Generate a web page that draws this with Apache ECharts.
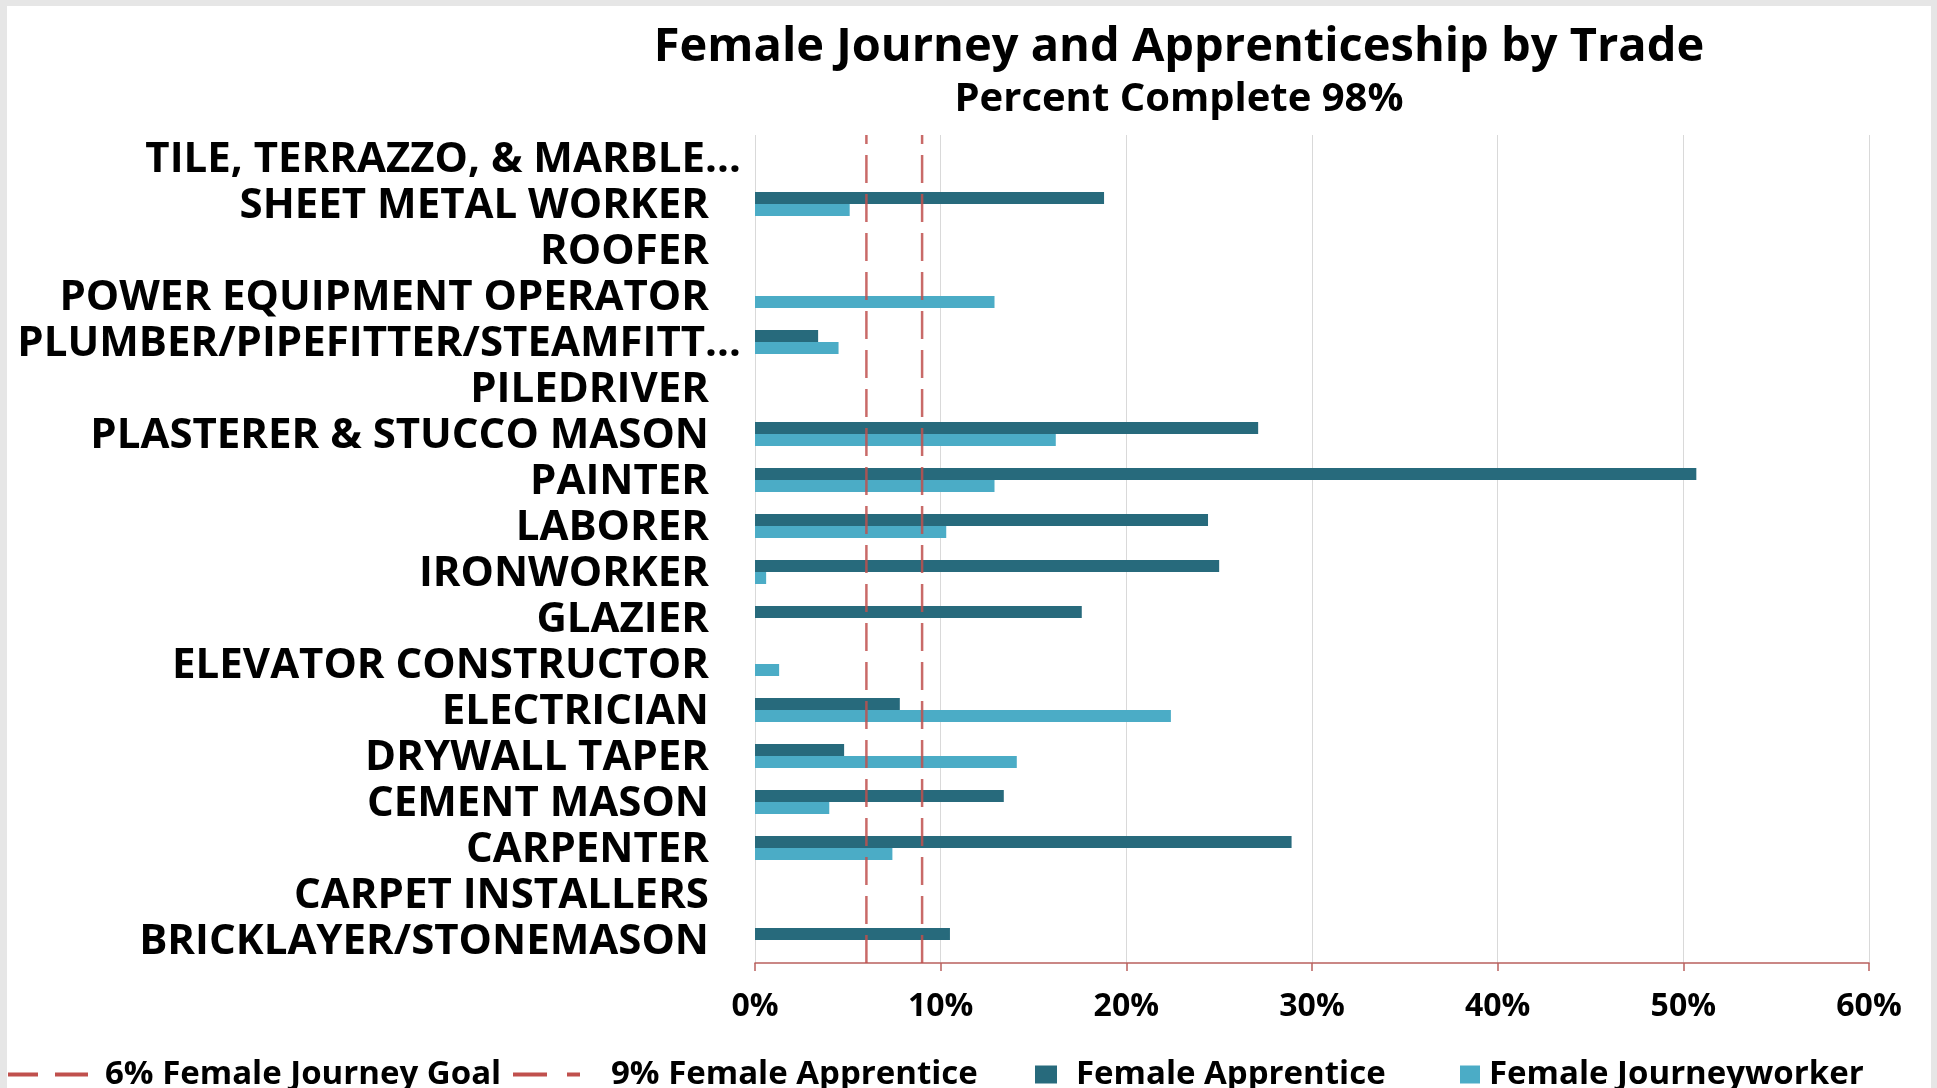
<!DOCTYPE html>
<html>
<head>
<meta charset="utf-8">
<script src="https://cdn.jsdelivr.net/npm/echarts@6/dist/echarts.min.js"></script>
<style>
  html, body { margin: 0; padding: 0; background: #e6e6e6; }
  #chart { position: absolute; left: 7px; top: 6px; width: 1924px; height: 1082px; background: #fff; }
</style>
</head>
<body>
<div id="chart"></div>
<script>
// trades, listed from the bottom of the chart to the top
var trades = [
  'BRICKLAYER/STONEMASON',
  'CARPET INSTALLERS',
  'CARPENTER',
  'CEMENT MASON',
  'DRYWALL TAPER',
  'ELECTRICIAN',
  'ELEVATOR CONSTRUCTOR',
  'GLAZIER',
  'IRONWORKER',
  'LABORER',
  'PAINTER',
  'PLASTERER & STUCCO MASON',
  'PILEDRIVER',
  'PLUMBER/PIPEFITTER/STEAMFITT…',
  'POWER EQUIPMENT OPERATOR',
  'ROOFER',
  'SHEET METAL WORKER',
  'TILE, TERRAZZO, & MARBLE…'
]
// percent of women per trade
var apprentice = [10.5, 0, 28.9, 13.4, 4.8, 7.8, 0, 17.6, 25.0, 24.4, 50.7, 27.1, 0, 3.4, 0, 0, 18.8, 0]
var journeyworker = [0, 0, 7.4, 4.0, 14.1, 22.4, 1.3, 0, 0.6, 10.3, 12.9, 16.2, 0, 4.5, 12.9, 0, 5.1, 0]
// goal lines (percent)
var journeyGoal = 6
var apprenticeGoal = 9
var xTicks = [0, 10, 20, 30, 40, 50, 60]

var font = '"Open Sans", "DejaVu Sans", sans-serif'
var darkTeal = '#276a7c'
var lightTeal = '#4bacc6'
var goalRed = '#c0504d'

// dashed legend marks, the way Excel draws them
var dashIcon1 = 'path://M0,0h30v4h-30z M47,0h33v4h-33z'
var dashIcon2 = 'path://M0,0h34v4h-34z M54,0h13v4h-13z'

var chart = echarts.init(document.getElementById('chart'))

function legendBox (name, left, width, height, pad, icon) {
  return {
    data: [{ name: name, icon: icon, itemStyle: { opacity: 1 } }],
    left: left,
    top: 1052,
    padding: 0,
    itemWidth: width,
    itemHeight: height,
    textStyle: {
      fontFamily: font,
      fontWeight: 'bold',
      fontSize: 33,
      color: '#000',
      padding: [0, 0, 0, pad]
    }
  }
}

var option = {
  animation: false,
  title: [
    {
      text: 'Female Journey and Apprenticeship by Trade',
      left: 1172,
      top: 18,
      padding: 0,
      textAlign: 'center',
      textStyle: { fontFamily: font, fontWeight: 'bold', fontSize: 47, lineHeight: 47, color: '#000' }
    },
    {
      text: 'Percent Complete 98%',
      left: 1172,
      top: 74,
      padding: 0,
      textAlign: 'center',
      textStyle: { fontFamily: font, fontWeight: 'bold', fontSize: 40, lineHeight: 40, color: '#000' }
    }
  ],
  legend: [
    legendBox('6% Female Journey Goal', 1, 80, 4, 12, dashIcon1),
    legendBox('9% Female Apprentice', 506, 67, 4, 26, dashIcon2),
    legendBox('Female Apprentice', 1028, 22, 18, 14, 'rect'),
    legendBox('Female Journeyworker', 1453, 20, 18, 4, 'rect')
  ],
  grid: {
    left: 748,
    right: 62,
    top: 129,
    bottom: 125,
    containLabel: false
  },
  xAxis: {
    type: 'value',
    min: xTicks[0],
    max: xTicks[xTicks.length - 1],
    interval: 10,
    axisLine: { show: true, lineStyle: { color: '#b9605d', width: 1.5 } },
    axisTick: { show: true, length: 8, lineStyle: { color: '#b9605d', width: 1.5 } },
    splitLine: { show: true, lineStyle: { color: '#d9d9d9', width: 1 } },
    axisLabel: {
      margin: 28,
      formatter: '{value}%',
      fontFamily: font,
      fontWeight: 'bold',
      fontSize: 32,
      color: '#000'
    }
  },
  yAxis: [
    {
      type: 'category',
      data: trades,
      axisLine: { show: false },
      axisTick: { show: false },
      axisLabel: {
        interval: 0,
        margin: 14,
        fontFamily: font,
        fontWeight: 'bold',
        fontSize: 42,
        color: '#000',
        formatter: function (v) {
          // long names are cut by Excel and sit closer to the axis
          return v.slice(-1) === '…' ? '{t|' + v + '}' : '{n|' + v + '}'
        },
        rich: {
          t: { fontFamily: font, fontWeight: 'bold', fontSize: 42, color: '#000', padding: [4, 0, 0, 0] },
          n: { fontFamily: font, fontWeight: 'bold', fontSize: 42, color: '#000', padding: [4, 32, 0, 0] }
        }
      }
    },
    {
      type: 'value',
      min: 0,
      max: 1,
      show: false
    }
  ],
  series: [
    {
      name: 'Female Apprentice',
      type: 'bar',
      data: apprentice,
      barWidth: 12,
      barGap: '0%',
      itemStyle: { color: darkTeal }
    },
    {
      name: 'Female Journeyworker',
      type: 'bar',
      data: journeyworker,
      barWidth: 12,
      barGap: '0%',
      itemStyle: { color: lightTeal }
    },
    {
      name: '6% Female Journey Goal',
      type: 'line',
      yAxisIndex: 1,
      symbol: 'none',
      z: 5,
      data: [[journeyGoal, 0], [journeyGoal, 1]],
      itemStyle: { color: goalRed },
      lineStyle: { color: goalRed, width: 2.5, type: [28, 11], opacity: 0.85 }
    },
    {
      name: '9% Female Apprentice',
      type: 'line',
      yAxisIndex: 1,
      symbol: 'none',
      z: 5,
      data: [[apprenticeGoal, 0], [apprenticeGoal, 1]],
      itemStyle: { color: goalRed },
      lineStyle: { color: goalRed, width: 2.5, type: [28, 11], opacity: 0.85 }
    }
  ]
}

chart.setOption(option)
</script>
</body>
</html>
